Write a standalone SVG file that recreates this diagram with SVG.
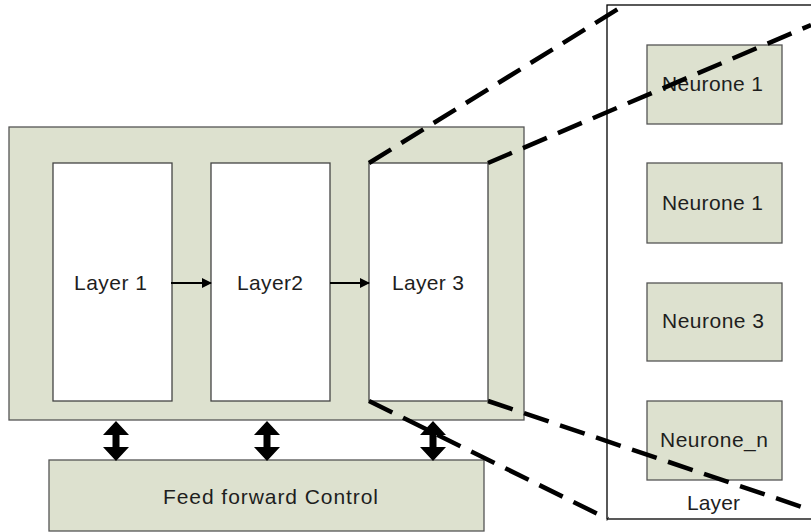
<svg xmlns="http://www.w3.org/2000/svg" width="811" height="532" viewBox="0 0 811 532">
<style>
.box{fill:#dde1cf;stroke:#555;stroke-width:1.3}
.white{fill:#fff;stroke:#444;stroke-width:1.3}
.t{font-family:"Liberation Sans",Arial,sans-serif;font-size:21px;fill:#1e1e1e}
.dash{fill:none;stroke:#000;stroke-width:4.5;stroke-dasharray:26 12}
.arr{fill:none;stroke:#000;stroke-width:2.2}
</style>
<defs>
<marker id="ah" markerWidth="10" markerHeight="10" refX="9" refY="5" orient="auto" markerUnits="userSpaceOnUse">
<path d="M0,0 L10,5 L0,10 Z" fill="#000"/>
</marker>
</defs>
<rect width="811" height="532" fill="#fff"/>
<g id="zoom-panel">
<rect x="607" y="5" width="210" height="514" fill="#fff" stroke="#000" stroke-width="1.3"/>
<text class="t" x="687" y="510" textLength="53">Layer</text>
</g>
<g id="neurone1">
<rect class="box" x="647" y="45" width="135" height="79"/>
<text class="t" x="662" y="91" textLength="101">Neurone 1</text>
</g>
<g id="neurone1b">
<rect class="box" x="647" y="163" width="135" height="80"/>
<text class="t" x="662" y="210" textLength="101">Neurone 1</text>
</g>
<g id="neurone3">
<rect class="box" x="647" y="283" width="135" height="78"/>
<text class="t" x="662" y="328" textLength="102">Neurone 3</text>
</g>
<g id="neuronen">
<rect class="box" x="647" y="401" width="135" height="79"/>
<text class="t" x="660" y="447" textLength="108">Neurone_n</text>
</g>
<g id="network">
<rect class="box" x="9" y="127" width="515" height="293"/>
</g>
<g id="layer1">
<rect class="white" x="53" y="163" width="119" height="238"/>
<text class="t" x="74" y="290" textLength="73">Layer 1</text>
</g>
<g id="layer2">
<rect class="white" x="211" y="163" width="119" height="238"/>
<text class="t" x="237" y="290" textLength="66">Layer2</text>
</g>
<g id="layer3">
<rect class="white" x="369" y="163" width="119" height="238"/>
<text class="t" x="392" y="290" textLength="72">Layer 3</text>
</g>
<g id="control">
<rect class="box" x="49" y="460" width="435" height="71"/>
<text class="t" x="163" y="504" textLength="215">Feed forward Control</text>
</g>
<g id="connectors">
<line class="arr" x1="171" y1="283" x2="211" y2="283" marker-end="url(#ah)"/>
<line class="arr" x1="330" y1="283" x2="369" y2="283" marker-end="url(#ah)"/>
<path d="M116,421 L129,435 L119.5,435 L119.5,447 L129,447 L116,461 L103,447 L112.5,447 L112.5,435 L103,435 Z" fill="#000"/>
<path d="M267,421 L280,435 L270.5,435 L270.5,447 L280,447 L267,461 L254,447 L263.5,447 L263.5,435 L254,435 Z" fill="#000"/>
<path d="M433,421 L446,435 L436.5,435 L436.5,447 L446,447 L433,461 L420,447 L429.5,447 L429.5,435 L420,435 Z" fill="#000"/>
<line class="dash" x1="369" y1="163" x2="626" y2="4"/>
<line class="dash" x1="488" y1="163" x2="811" y2="25"/>
<line class="dash" x1="369" y1="401" x2="608" y2="519"/>
<line class="dash" x1="488" y1="401" x2="811" y2="510"/>
</g>
</svg>
